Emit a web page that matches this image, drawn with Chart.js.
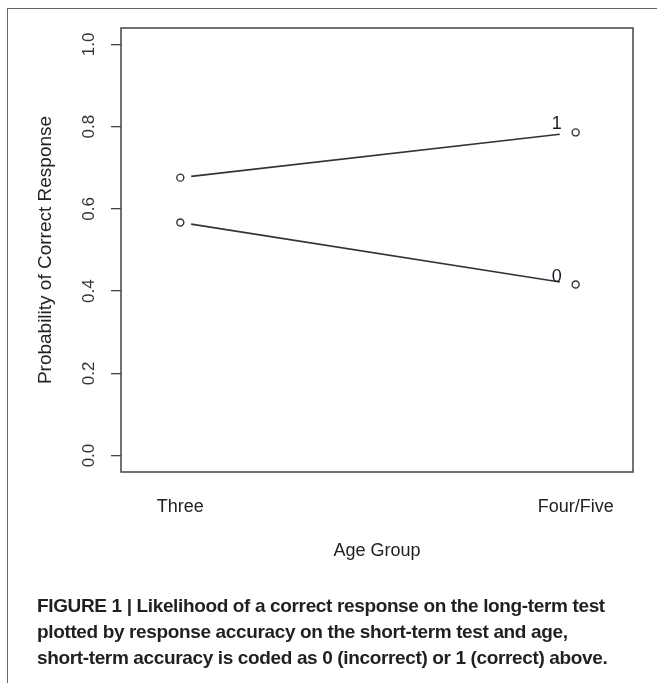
<!DOCTYPE html>
<html>
<head>
<meta charset="utf-8">
<script src="https://cdn.jsdelivr.net/npm/chart.js@4.4.1/dist/chart.umd.min.js"></script>
<style>
    html, body { margin: 0; padding: 0; background: #fff; }
    #wrap { position: relative; width: 657px; height: 683px; overflow: hidden; }
    #frame { position: absolute; left: 7px; top: 8px; width: 700px; height: 700px;
             border-left: 1px solid #666; border-top: 1px solid #666; }
    #chartBox { position: absolute; left: 0; top: 0; width: 657px; height: 683px; }
    #caption { position: absolute; left: 37px; top: 593px; width: 620px; white-space: nowrap;
               font-family: "Liberation Sans", Arial, sans-serif; font-weight: bold;
               font-size: 19px; line-height: 26px; color: #231f20; letter-spacing: -0.36px; }
</style>
</head>
<body>
<div id="wrap">
    <div id="frame"></div>
    <div id="chartBox"><canvas id="chart"></canvas></div>
    <div id="caption">FIGURE 1 | Likelihood of a correct response on the long-term test<br>plotted by response accuracy on the short-term test and age,<br>short-term accuracy is coded as 0 (incorrect) or 1 (correct) above.</div>
</div>
<script>
    // datos
    const ageGroups = ['Three', 'Four/Five'];
    const groupPositions = [1, 2];
    const accuracyCodes = ['1', '0'];
    const probCorrect1 = [0.676, 0.786];
    const probCorrect0 = [0.567, 0.416];
    const yTicks = [0.0, 0.2, 0.4, 0.6, 0.8, 1.0];

    const seriesValues = [probCorrect1, probCorrect0];
    const fontFamily = '"Liberation Sans", Arial, sans-serif';

    // lineas con hueco alrededor de los puntos (type = "b") y etiqueta de la serie
    const gapLines = {
        id: 'gapLines',
        afterDatasetsDraw(chart) {
            const ctx = chart.ctx;
            chart.data.datasets.forEach((ds, i) => {
                const pts = chart.getDatasetMeta(i).data;
                ctx.save();
                ctx.strokeStyle = '#333';
                ctx.lineWidth = 1.6;
                for (let k = 0; k < pts.length - 1; k++) {
                    const a = pts[k], b = pts[k + 1];
                    const len = Math.hypot(b.x - a.x, b.y - a.y);
                    const ux = (b.x - a.x) / len, uy = (b.y - a.y) / len;
                    ctx.beginPath();
                    ctx.moveTo(a.x + ux * 11, a.y + uy * 11);
                    ctx.lineTo(b.x - ux * 16, b.y - uy * 16);
                    ctx.stroke();
                }
                const last = pts[pts.length - 1];
                ctx.fillStyle = '#1a1a2a';
                ctx.font = '18px ' + fontFamily;
                ctx.textAlign = 'center';
                ctx.textBaseline = 'alphabetic';
                ctx.fillText(ds.label, last.x - 19, last.y - 3);
                ctx.restore();
            });
        }
    };

    // caja del grafico y etiquetas del eje y giradas
    const plotFrame = {
        id: 'plotFrame',
        afterDraw(chart) {
            const {ctx, chartArea} = chart;
            ctx.save();
            ctx.strokeStyle = '#444';
            ctx.lineWidth = 1.5;
            ctx.strokeRect(chartArea.left, chartArea.top,
                chartArea.right - chartArea.left, chartArea.bottom - chartArea.top);
            const yScale = chart.scales.y;
            ctx.fillStyle = '#333';
            ctx.font = '17px ' + fontFamily;
            ctx.textAlign = 'center';
            ctx.textBaseline = 'middle';
            yScale.ticks.forEach(t => {
                const y = yScale.getPixelForValue(t.value);
                ctx.save();
                ctx.translate(89, y);
                ctx.rotate(-Math.PI / 2);
                ctx.fillText(t.value.toFixed(1), 0, 0);
                ctx.restore();
            });
            ctx.restore();
        }
    };

    const datasets = accuracyCodes.map((code, i) => ({
        label: code,
        data: groupPositions.map((x, j) => ({x: x, y: seriesValues[i][j]})),
        showLine: false,
        pointRadius: 3.5,
        pointBorderWidth: 1.4,
        pointBorderColor: '#333',
        pointBackgroundColor: '#fff'
    }));

    new Chart(document.getElementById('chart'), {
        type: 'scatter',
        data: {datasets},
        options: {
            responsive: true,
            maintainAspectRatio: false,
            animation: false,
            layout: {padding: {left: 0, top: 28, right: 24, bottom: 0}},
            plugins: {legend: {display: false}, tooltip: {enabled: false}},
            scales: {
                x: {
                    type: 'linear',
                    min: 0.85,
                    max: 2.145,
                    afterBuildTicks: axis => { axis.ticks = groupPositions.map(v => ({value: v})); },
                    afterFit: axis => { axis.height = 211; },
                    grid: {display: false, drawTicks: false},
                    border: {display: false},
                    ticks: {
                        autoSkip: false,
                        maxRotation: 0,
                        padding: 24,
                        color: '#222',
                        font: {family: fontFamily, size: 18},
                        callback: (v, i) => ageGroups[i]
                    },
                    title: {
                        display: true,
                        text: 'Age Group',
                        color: '#222',
                        font: {family: fontFamily, size: 18},
                        padding: {top: 0, bottom: 121}
                    }
                },
                y: {
                    min: -0.04,
                    max: 1.04,
                    afterBuildTicks: axis => { axis.ticks = yTicks.map(v => ({value: v})); },
                    afterFit: axis => { axis.width = 121; },
                    grid: {drawOnChartArea: false, drawTicks: true, tickLength: 10, color: '#444', lineWidth: 1.3},
                    border: {display: false},
                    ticks: {display: false},
                    title: {
                        display: true,
                        text: 'Probability of Correct Response',
                        color: '#222',
                        font: {family: fontFamily, size: 19},
                        padding: {top: 34, bottom: 0}
                    }
                }
            }
        },
        plugins: [gapLines, plotFrame]
    });
</script>
</body>
</html>
